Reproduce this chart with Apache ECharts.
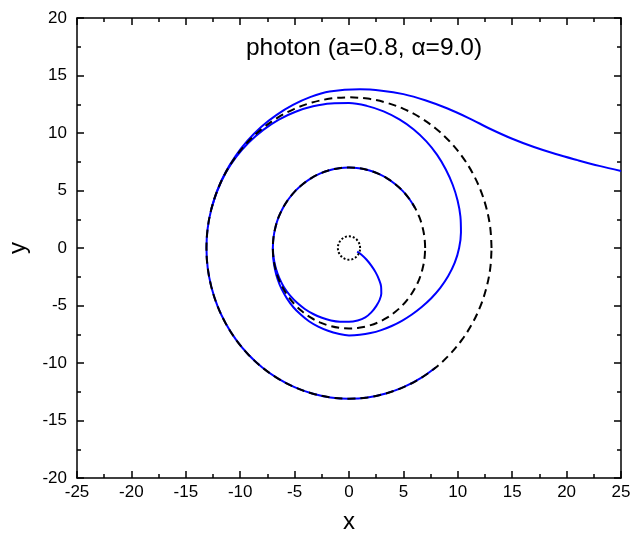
<!DOCTYPE html>
<html><head><meta charset="utf-8">
<script src="https://cdn.jsdelivr.net/npm/echarts/dist/echarts.min.js"></script>
<style>html,body{margin:0;padding:0;background:#fff}#c{width:630px;height:535px}</style>
</head><body><div id="c"></div><script>
// Axis ranges / ticks
const xRange = [-25, 25], xStep = 5;
const yRange = [-20, 20], yStep = 5;
const titleText = 'photon (a=0.8, \u03b1=9.0)';
const xName = 'x', yName = 'y';

// Dashed reference circles (r = 13.1 and r = 7), points every 7.5 degrees
const circleOuter = [[13.1,0],[12.99,1.71],[12.65,3.39],[12.10,5.01],[11.34,6.55],[10.39,7.97],[9.26,9.26],[7.97,10.39],[6.55,11.34],[5.01,12.10],[3.39,12.65],[1.71,12.99],[0,13.1],[-1.71,12.99],[-3.39,12.65],[-5.01,12.10],[-6.55,11.34],[-7.97,10.39],[-9.26,9.26],[-10.39,7.97],[-11.34,6.55],[-12.10,5.01],[-12.65,3.39],[-12.99,1.71],[-13.1,0],[-12.99,-1.71],[-12.65,-3.39],[-12.10,-5.01],[-11.34,-6.55],[-10.39,-7.97],[-9.26,-9.26],[-7.97,-10.39],[-6.55,-11.34],[-5.01,-12.10],[-3.39,-12.65],[-1.71,-12.99],[0,-13.1],[1.71,-12.99],[3.39,-12.65],[5.01,-12.10],[6.55,-11.34],[7.97,-10.39],[9.26,-9.26],[10.39,-7.97],[11.34,-6.55],[12.10,-5.01],[12.65,-3.39],[12.99,-1.71],[13.1,0]];
const circleInner = [[7,0],[6.94,0.91],[6.76,1.81],[6.47,2.68],[6.06,3.5],[5.55,4.26],[4.95,4.95],[4.26,5.55],[3.5,6.06],[2.68,6.47],[1.81,6.76],[0.91,6.94],[0,7],[-0.91,6.94],[-1.81,6.76],[-2.68,6.47],[-3.5,6.06],[-4.26,5.55],[-4.95,4.95],[-5.55,4.26],[-6.06,3.5],[-6.47,2.68],[-6.76,1.81],[-6.94,0.91],[-7,0],[-6.94,-0.91],[-6.76,-1.81],[-6.47,-2.68],[-6.06,-3.5],[-5.55,-4.26],[-4.95,-4.95],[-4.26,-5.55],[-3.5,-6.06],[-2.68,-6.47],[-1.81,-6.76],[-0.91,-6.94],[0,-7],[0.91,-6.94],[1.81,-6.76],[2.68,-6.47],[3.5,-6.06],[4.26,-5.55],[4.95,-4.95],[5.55,-4.26],[6.06,-3.5],[6.47,-2.68],[6.76,-1.81],[6.94,-0.91],[7,0]];
// Dotted horizon (r ~ 1)
const circleHorizon = [[1.02,0],[0.99,0.26],[0.88,0.51],[0.72,0.72],[0.51,0.88],[0.26,0.99],[0,1.02],[-0.26,0.99],[-0.51,0.88],[-0.72,0.72],[-0.88,0.51],[-0.99,0.26],[-1.02,0],[-0.99,-0.26],[-0.88,-0.51],[-0.72,-0.72],[-0.51,-0.88],[-0.26,-0.99],[0,-1.02],[0.26,-0.99],[0.51,-0.88],[0.72,-0.72],[0.88,-0.51],[0.99,-0.26],[1.02,0]];

// Blue photon path pieces
const pathIncoming = [[25,6.7],[23,7.14],[21,7.64],[19,8.17],[17,8.78],[15,9.5],[13,10.35],[11,11.3],[9,12.15],[7,12.85],[5,13.38],[3,13.68],[1,13.8],[-1.79,13.6],[-3.52,13.14],[-5.15,12.44],[-6.68,11.56],[-8.08,10.53],[-9.33,9.33],[-10.43,8.0],[-11.36,6.56],[-12.10,5.01]];
// outer path then follows r = 13.1 from 165 deg to ~308 deg
const outerFollowFrom = 22, outerFollowTo = 42;
const pathMiddle = [[-12.65,3.39],[-12.09,5.01],[-11.33,6.54],[-10.35,7.94],[-9.19,9.19],[-7.88,10.27],[-6.45,11.17],[-4.91,11.85],[-3.30,12.32],[-1.66,12.57],[0,12.6],[1.63,12.36],[3.18,11.88],[4.63,11.18],[5.95,10.31],[7.11,9.27],[8.10,8.10],[8.90,6.83],[9.53,5.5],[9.98,4.13],[10.24,2.74],[10.29,1.35],[10.12,0],[9.72,-1.28],[9.12,-2.44],[8.39,-3.47],[7.56,-4.37],[6.68,-5.13],[5.78,-5.78],[4.86,-6.33],[3.92,-6.78],[2.96,-7.14],[1.98,-7.40],[0.99,-7.55],[0,-7.6],[-0.98,-7.46],[-1.93,-7.20],[-2.83,-6.84],[-3.68,-6.37],[-4.44,-5.79],[-5.13,-5.13],[-5.71,-4.38],[-6.19,-3.58],[-6.56,-2.72],[-6.81,-1.82],[-6.96,-0.92],[-7,0]];
// inner arc follows r = 7 from 180 deg down to ~30 deg
const innerFollowFrom = 4, innerFollowTo = 25;
const pathHook = [[-7,0],[-6.92,-0.91],[-6.71,-1.80],[-6.39,-2.65],[-5.96,-3.44],[-5.41,-4.15],[-4.77,-4.77],[-4.06,-5.3],[-3.29,-5.74],[-2.49,-6.07],[-1.66,-6.3],[-0.83,-6.41],[0,-6.42],[0.8,-6.3],[1.5,-6.03],[2.05,-5.6],[2.5,-5.05],[2.82,-4.5],[2.97,-3.95],[2.95,-3.35],[2.75,-2.72],[2.45,-2.12],[2.05,-1.53],[1.6,-1.0],[1.15,-0.58],[0.75,-0.32]];

const pathOuter = pathIncoming.concat(circleOuter.slice(outerFollowFrom, outerFollowTo));
const pathInnerArc = circleInner.slice(innerFollowFrom, innerFollowTo);

const FONT = "'Liberation Sans', Arial, sans-serif";
const chart = echarts.init(document.getElementById('c'), null, {renderer:'canvas'});

function axisCommon(show, margin) {
  return {
    axisLine: {show: true, onZero: false, lineStyle: {color: '#000', width: 1.5}},
    axisTick: {show: true, inside: true, length: 7, lineStyle: {color: '#000', width: 1.5}},
    minorTick: {show: true, splitNumber: 2, length: 4, lineStyle: {color: '#000', width: 1.5}},
    splitLine: {show: false},
    minorSplitLine: {show: false},
    axisLabel: {show: show, color: '#000', fontSize: 17, fontFamily: FONT, margin: margin || 8}
  };
}

const blue = {color: '#0000ff', width: 2};
function blueSeries(name, data) {
  return {name: name, type: 'line', data: data, smooth: 0.35, showSymbol: false, symbol: 'none',
    lineStyle: blue, xAxisIndex: 0, yAxisIndex: 0, z: 2, silent: true};
}
function blackSeries(name, data, type) {
  return {name: name, type: 'line', data: data, smooth: 0.35, showSymbol: false, symbol: 'none',
    lineStyle: {color: '#000', width: 2, type: type}, xAxisIndex: 0, yAxisIndex: 0, z: 3, silent: true};
}

chart.setOption({
  animation: false,
  backgroundColor: '#fff',
  grid: {left: 77, right: 9, top: 18, bottom: 57, containLabel: false, outerBoundsMode: 'none'},
  graphic: [{type: 'text', x: 364, y: 48, style: {text: titleText, fill: '#000', font: '24.5px ' + FONT, textAlign: 'center', textVerticalAlign: 'middle'}}],
  xAxis: [
    Object.assign({type: 'value', min: xRange[0], max: xRange[1], interval: xStep, position: 'bottom',
      name: xName, nameLocation: 'middle', nameGap: 32, nameTextStyle: {color: '#000', fontSize: 24, fontFamily: FONT}}, axisCommon(true, 6)),
    Object.assign({type: 'value', min: xRange[0], max: xRange[1], interval: xStep, position: 'top'}, axisCommon(false))
  ],
  yAxis: [
    Object.assign({type: 'value', min: yRange[0], max: yRange[1], interval: yStep, position: 'left',
      name: yName, nameLocation: 'middle', nameGap: 47, nameRotate: 90, nameTextStyle: {color: '#000', fontSize: 24, fontFamily: FONT}}, axisCommon(true, 10)),
    Object.assign({type: 'value', min: yRange[0], max: yRange[1], interval: yStep, position: 'right'}, axisCommon(false))
  ],
  series: [
    blueSeries('outer', pathOuter),
    blueSeries('middle', pathMiddle),
    blueSeries('innerArc', pathInnerArc),
    blueSeries('hook', pathHook),
    blackSeries('r13', circleOuter, [8, 5]),
    blackSeries('r7', circleInner, [8, 5]),
    blackSeries('horizon', circleHorizon, [2, 2])
  ]
});
</script></body></html>
